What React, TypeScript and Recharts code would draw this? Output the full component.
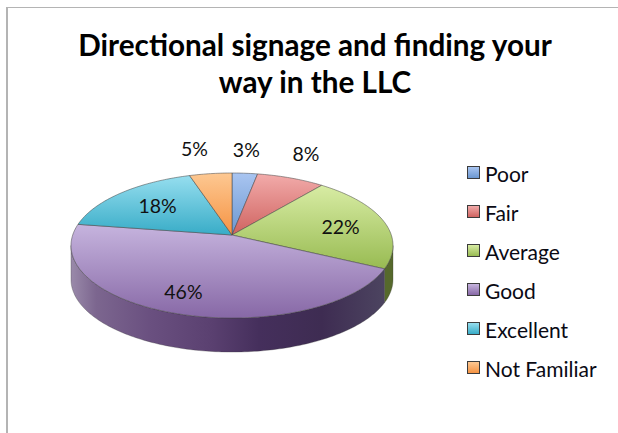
import { PieChart, Pie, Legend } from 'recharts';

const categories = ['Poor', 'Fair', 'Average', 'Good', 'Excellent', 'Not Familiar'];
const values = [3, 8, 22, 46, 18, 5];

const lightColors = ['#a9c5f1', '#f2abaa', '#d8eca4', '#c6b4de', '#96deef', '#fdc892'];
const darkColors = ['#6b97d0', '#cf6360', '#98bb52', '#8768a6', '#38acc7', '#f59343'];
const wallColors = ['#3c5578', '#7a3533', '#56692c', '#4a3560', '#1f6a7a', '#a05a20'];

const tableData = categories.map((name, i) => ({ name, value: values[i], fill: `url(#face${i})` }));

// how far out each label sits (1 = rim) and a small nudge in px
const labelRadius = [1.42, 1.3, 0.7, 0.72, 0.7, 1.4];
const labelNudge = [[-3, -2], [0, -10], [2, 2], [-10, 2], [5, 1], [-9, -5]];

const RX = 1.593; // px across per unit of outerRadius
const RY = 0.71;
const TILT = 0.145; // perspective, near rim looks bigger than far rim
const DEPTH = 34;

const project = (cx: number, cy: number, r: number, deg: number, k = 1) => {
    const a = (deg * Math.PI) / 180;
    const w = 1 + TILT * k * Math.sin(a);
    return [cx + (r * RX * k * Math.cos(a)) / w, cy - (r * RY * k * Math.sin(a)) / w];
};

const arcPoints = (cx: number, cy: number, r: number, from: number, to: number) => {
    const pts: number[][] = [];
    const steps = Math.max(2, Math.ceil(Math.abs(to - from)));
    for (let i = 0; i <= steps; i++) {
        pts.push(project(cx, cy, r, from + ((to - from) * i) / steps));
    }
    return pts;
};

const toPath = (pts: number[][]) => pts.map((p, i) => `${i ? 'L' : 'M'}${p[0].toFixed(2)} ${p[1].toFixed(2)}`).join(' ') + ' Z';

const Slice3D = (props: any) => {
    const { cx, cy, outerRadius, startAngle, endAngle, fill } = props;
    const idx = categories.indexOf(props.name ?? props.payload?.name);
    const rim = arcPoints(cx, cy, outerRadius, startAngle, endAngle);

    // front wall only shows for the part of the rim facing us
    const limit = (Math.asin(TILT) * 180) / Math.PI;
    const hi = Math.min(startAngle, -limit);
    const lo = Math.max(endAngle, -180 + limit);
    let wall = null;
    if (hi > lo) {
        const top = arcPoints(cx, cy, outerRadius, hi, lo);
        const bottom = [...top].reverse().map((p) => [p[0], p[1] + DEPTH]);
        wall = (
            <path
                d={toPath([...top, ...bottom])}
                fill={idx === 3 ? 'url(#wallGood)' : wallColors[idx]}
                stroke="#3a3a3a"
                strokeOpacity={0.5}
                strokeWidth={0.6}
            />
        );
    }

    return (
        <g>
            {wall}
            <path d={toPath([[cx, cy], ...rim])} fill={fill} stroke="#444" strokeOpacity={0.65} strokeWidth={0.8} />
        </g>
    );
};

const renderLabel = (props: any) => {
    const { cx, cy, outerRadius, midAngle, value, index } = props;
    const p = project(cx, cy, outerRadius, midAngle, labelRadius[index]);
    return (
        <text
            x={p[0] + labelNudge[index][0]}
            y={p[1] + labelNudge[index][1]}
            textAnchor="middle"
            dominantBaseline="central"
            fontFamily="Lato"
            fontSize={19.5}
            fill="#111"
        >
            {value}%
        </text>
    );
};

const renderLegend = ({ payload }: any) => (
    <div style={{ fontFamily: 'Lato', fontSize: 21, color: '#0a0a14' }}>
        {(payload || []).map((entry: any) => {
            const i = categories.indexOf(entry.value);
            return (
                <div key={entry.value} style={{ display: 'flex', alignItems: 'center', height: 39, whiteSpace: 'nowrap' }}>
                    <span
                        style={{
                            display: 'inline-block',
                            width: 11,
                            height: 11,
                            marginRight: 5,
                            marginTop: -3,
                            border: '1.5px solid #3c3c3c',
                            background: `linear-gradient(${lightColors[i]}, ${darkColors[i]})`,
                        }}
                    />
                    {entry.value}
                </div>
            );
        })}
    </div>
);

export default function App() {
    return (
        <div style={{ position: 'absolute', left: 0, top: 0, width: 618, height: 433, background: '#fff', overflow: 'hidden' }}>
            <div
                style={{
                    position: 'absolute',
                    left: 6,
                    top: 7,
                    right: 0,
                    bottom: 0,
                    borderLeft: '2px solid #b4b4b4',
                    borderTop: '1.5px solid #b4b4b4',
                }}
            />
            <PieChart width={618} height={433} margin={{ top: 0, right: 0, bottom: 0, left: 0 }}>
                <defs>
                    {lightColors.map((c, i) => (
                        <linearGradient key={c} id={`face${i}`} x1="0" y1="0" x2="0" y2="1">
                            <stop offset="0%" stopColor={c} />
                            <stop offset="100%" stopColor={darkColors[i]} />
                        </linearGradient>
                    ))}
                    <linearGradient id="wallGood" x1="0" y1="0" x2="1" y2="0">
                        <stop offset="0%" stopColor="#9a8aaa" />
                        <stop offset="8%" stopColor="#7c668f" />
                        <stop offset="25%" stopColor="#6a5080" />
                        <stop offset="45%" stopColor="#5a4070" />
                        <stop offset="60%" stopColor="#452f5c" />
                        <stop offset="80%" stopColor="#3e2c52" />
                        <stop offset="100%" stopColor="#4c4460" />
                    </linearGradient>
                </defs>
                <text x={315} y={56} textAnchor="middle" fontFamily="Lato" fontWeight={700} fontSize={29.7} fill="#000">
                    Directional signage and finding your
                </text>
                <text x={315} y={93} textAnchor="middle" fontFamily="Lato" fontWeight={700} fontSize={29.7} fill="#000">
                    way in the LLC
                </text>
                <Pie
                    data={tableData}
                    dataKey="value"
                    nameKey="name"
                    cx={232}
                    cy={235}
                    outerRadius={100}
                    startAngle={90}
                    endAngle={-270}
                    stroke="none"
                    shape={Slice3D}
                    label={renderLabel}
                    labelLine={false}
                    isAnimationActive={false}
                />
                <Legend
                    layout="vertical"
                    align="right"
                    verticalAlign="top"
                    itemSorter={null}
                    content={renderLegend}
                    wrapperStyle={{ left: 467, top: 154, width: 150 }}
                />
            </PieChart>
        </div>
    );
}
